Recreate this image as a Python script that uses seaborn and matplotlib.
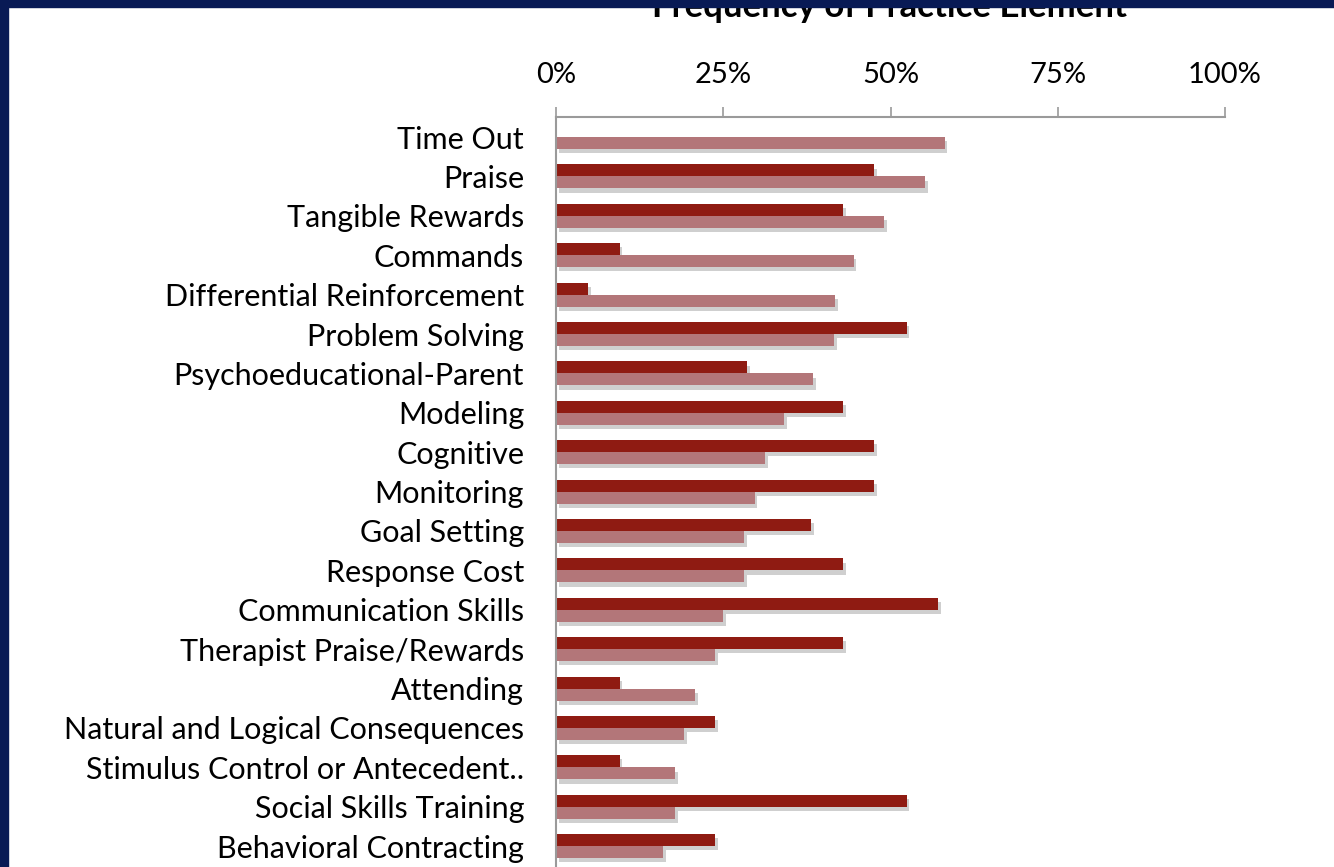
import pandas as pd
import matplotlib.pyplot as plt
import matplotlib.patheffects as pe
import seaborn as sns

# practice elements, top to bottom
elements = [
    "Time Out", "Praise", "Tangible Rewards", "Commands",
    "Differential Reinforcement", "Problem Solving", "Psychoeducational-Parent",
    "Modeling", "Cognitive", "Monitoring", "Goal Setting", "Response Cost",
    "Communication Skills", "Therapist Praise/Rewards", "Attending",
    "Natural and Logical Consequences", "Stimulus Control or Antecedent..",
    "Social Skills Training", "Behavioral Contracting",
]
# dark red series (upper bar of each pair)
series_a = [0.0, 47.6, 42.9, 9.5, 4.8, 52.4, 28.6, 42.9, 47.6, 47.6,
            38.1, 42.9, 57.1, 42.9, 9.5, 23.8, 9.5, 52.4, 23.8]
# muted pink series (lower bar of each pair)
series_b = [58.1, 55.2, 49.0, 44.5, 41.7, 41.6, 38.4, 34.1, 31.2, 29.7,
            28.1, 28.1, 25.0, 23.8, 20.8, 19.2, 17.8, 17.8, 16.0]
series_names = ["Series A", "Series B"]

df = pd.DataFrame({
    "element": elements * 2,
    "pct": series_a + series_b,
    "series": [series_names[0]] * len(elements) + [series_names[1]] * len(elements),
})

sns.set_style("white")
plt.rcParams["font.family"] = ["Lato", "DejaVu Sans"]
plt.rcParams["text.color"] = "black"
plt.rcParams["xtick.color"] = "black"
plt.rcParams["ytick.color"] = "black"

fig = plt.figure(figsize=(13.34, 8.67), dpi=100)
ax = fig.add_axes([556 / 1334, 0.0, 669 / 1334, 1 - 117 / 867])

sns.barplot(data=df, x="pct", y="element", hue="series", orient="h",
            palette=["#8f1b12", "#b37679"], width=0.61, legend=False,
            saturation=1, ax=ax)

# soft drop shadow under each bar
for p in ax.patches:
    p.set_path_effects([pe.SimplePatchShadow(offset=(2, -3), shadow_rgbFace="#777777", alpha=0.35),
                        pe.Normal()])
    p.set_edgecolor("none")

ax.set_xlim(0, 100)
ax.set_ylim(18.53, -0.51)
ax.set_xticks([0, 25, 50, 75, 100])
ax.set_xticklabels(["0%", "25%", "50%", "75%", "100%"])
ax.xaxis.tick_top()
ax.tick_params(axis="x", direction="out", length=7, width=1.2, color="#9a9a9a",
               pad=14, labelsize=21, labelcolor="black")
ax.tick_params(axis="y", length=0, pad=23, labelsize=22, labelcolor="black")
ax.set_xlabel("")
ax.set_ylabel("")
for side in ["right", "bottom"]:
    ax.spines[side].set_visible(False)
for side in ["top", "left"]:
    ax.spines[side].set_color("#9a9a9a")
    ax.spines[side].set_linewidth(1.5)

# title, mostly cut off by the top of the slide
fig.text(890 / 1334, 1 - 17 / 867, "Frequency of Practice Element", ha="center",
         va="baseline", fontsize=25, fontweight="bold")

# navy slide frame on top and left
fig.patches.append(plt.Rectangle((0, 1 - 7 / 867), 1, 7 / 867, transform=fig.transFigure,
                                 color="#081a55", zorder=10))
fig.patches.append(plt.Rectangle((0, 0), 8 / 1334, 1, transform=fig.transFigure,
                                 color="#081a55", zorder=10))

fig.savefig("out.png", dpi=100)
